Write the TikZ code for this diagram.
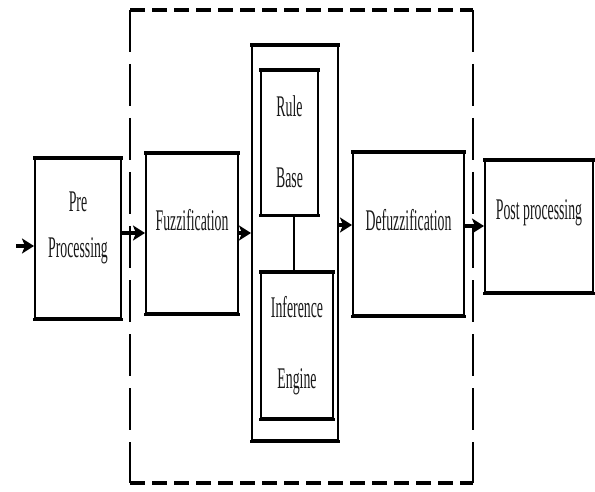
\documentclass[tikz,border=0pt]{standalone}
\usepackage{fontspec}
\usepackage{graphicx}
\setmainfont{Liberation Serif}
\usetikzlibrary{arrows.meta}
\newcommand\sqz[1]{\scalebox{0.46}[1]{#1}}
\tikzset{
  blk/.style={draw, line width=2pt, inner sep=0pt},
  topedge/.style={line width=4.5pt},
  botedge/.style={line width=3pt},
  lbl/.style={inner sep=0pt, anchor=base, text=black!90, font=\fontsize{30}{36}\selectfont},
  flow/.style={line width=3.5pt, -{Stealth[length=12pt,width=15pt,inset=3pt]}},
  hdash/.style={line width=3.5pt, dash pattern=on 15pt off 7pt},
  vdash/.style={line width=2.5pt, dash pattern=on 42pt off 12pt},
}
\begin{document}
\begin{tikzpicture}[x=1pt,y=-1pt]
\useasboundingbox (0,0) rectangle (595,492);
% dashed frame
\coordinate (d1) at (130,10);
\coordinate (d2) at (473,10);
\coordinate (d3) at (473,483);
\coordinate (d4) at (130,483);
\draw[hdash] (d1) -- (d2);
\draw[hdash] (d4) -- (d3);
\draw[vdash] (d1) -- (d4);
\draw[vdash] (d2) -- (d3);
% boxes
\node[blk, minimum width=86pt, minimum height=160pt] (pre) at (78,238) {};
\node[blk, minimum width=92pt, minimum height=160pt] (fz) at (192,233) {};
\node[blk, minimum width=86pt, minimum height=395pt] (rb) at (295,242.5) {};
\node[blk, minimum width=57pt, minimum height=145pt] (rl) at (289.5,142.5) {};
\node[blk, minimum width=72pt, minimum height=146pt] (inf) at (297,345) {};
\node[blk, minimum width=111pt, minimum height=163pt] (df) at (408.5,233.5) {};
\node[blk, minimum width=108pt, minimum height=132pt] (po) at (539,226) {};
\foreach \n in {pre,fz,rb,rl,inf,df,po}{
  \draw[topedge] ([xshift=-1pt,yshift=-1pt]\n.north west) -- ([xshift=1pt,yshift=-1pt]\n.north east);
  \draw[botedge] ([xshift=-1pt]\n.south west) -- ([xshift=1pt]\n.south east);
}
% labels
\node[lbl] (tpre) at (78,212) {\sqz{Pre}};
\node[lbl] (tproc) at (78,258) {\sqz{Processing}};
\node[lbl] (tfz) at (192,230) {\sqz{Fuzzification}};
\node[lbl] (trule) at (289.5,117) {\sqz{Rule}};
\node[lbl] (tbase) at (289.5,188) {\sqz{Base}};
\node[lbl] (tinf) at (297,317) {\sqz{Inference}};
\node[lbl] (teng) at (297,388) {\sqz{Engine}};
\node[lbl] (tdf) at (408.5,230) {\sqz{Defuzzification}};
\node[lbl] (tpo) at (539,220) {\sqz{Post processing}};
% connectors
\coordinate (in) at (16,246);
\draw[flow] (in) -- (in -| pre.west);
\draw[flow] (pre.east |- fz.west) -- (fz.west);
\draw[flow] (fz.east) -- (fz.east -| rb.west);
\draw[flow] (rb.east |- 0,225) -- (df.west |- 0,225);
\draw[flow] (df.east |- po.west) -- (po.west);
\draw[line width=2pt] ([xshift=4.5pt]rl.south) -- ([xshift=4.5pt]rl.south |- inf.north);
\end{tikzpicture}
\end{document}
